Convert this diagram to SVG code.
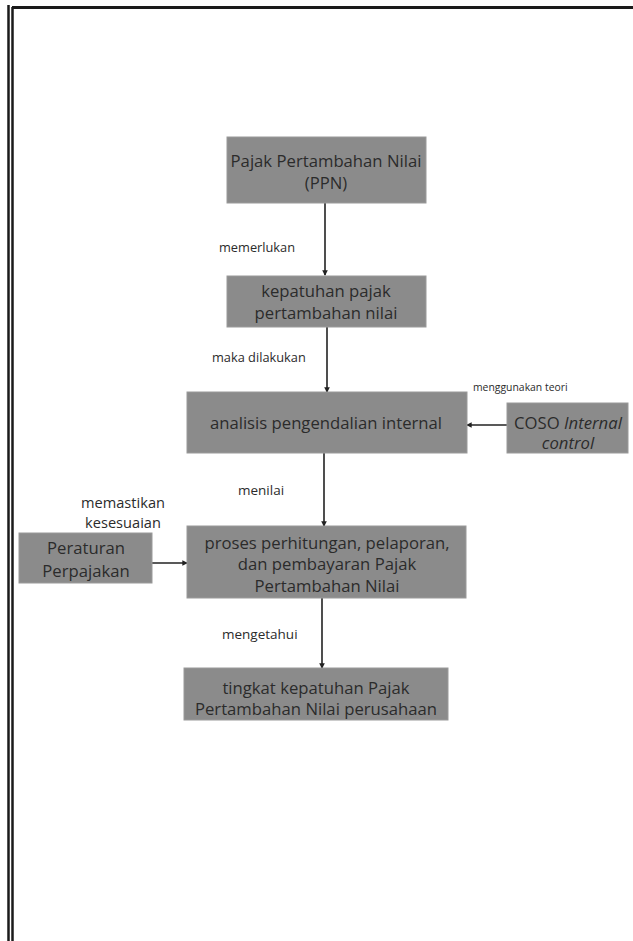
<svg xmlns="http://www.w3.org/2000/svg" width="633" height="941" viewBox="0 0 633 941">
<style>
.box{fill:#8b8b8b;stroke:#9a9a9a;stroke-width:1}
.t{font-family:"Open Sans","Noto Sans",sans-serif;font-size:16.7px;fill:#2b2b2b;text-anchor:middle}
.lbl{font-family:"Open Sans","Noto Sans",sans-serif;fill:#2b2b2b}
.con{stroke:#222;stroke-width:1.6;fill:none;marker-end:url(#ah)}
</style>
<defs>
<marker id="ah" viewBox="0 0 6 6" refX="5" refY="3" markerWidth="3.5" markerHeight="3.5" orient="auto">
<path d="M0,0 L6,3 L0,6 Z" fill="#222"/>
</marker>
</defs>
<rect width="633" height="941" fill="#fff"/>
<g id="frame">
<line x1="8.5" y1="5" x2="8.5" y2="941" stroke="#1a1a1a" stroke-width="2.5"/>
<line x1="12.5" y1="7" x2="12.5" y2="941" stroke="#1a1a1a" stroke-width="2.5"/>
<line x1="12" y1="7.5" x2="633" y2="7.5" stroke="#1a1a1a" stroke-width="3"/>
</g>
<g id="connectors">
<line class="con" x1="325" y1="203" x2="325" y2="275"/>
<line class="con" x1="327" y1="327" x2="327" y2="392"/>
<line class="con" x1="507" y1="425" x2="467" y2="425"/>
<line class="con" x1="324" y1="453" x2="324" y2="526"/>
<line class="con" x1="152" y1="563" x2="187" y2="563"/>
<line class="con" x1="322" y1="598" x2="322" y2="668"/>
</g>
<g id="labels">
<text class="lbl" x="219" y="252" style="font-size:12.8px">memerlukan</text>
<text class="lbl" x="212" y="362" style="font-size:12.8px">maka dilakukan</text>
<text class="lbl" x="473" y="391" style="font-size:10.4px">menggunakan teori</text>
<text class="lbl" x="238" y="495" style="font-size:13.5px">menilai</text>
<text class="lbl" x="123" y="508" text-anchor="middle" style="font-size:14.6px">memastikan</text>
<text class="lbl" x="123" y="528" text-anchor="middle" style="font-size:14.6px">kesesuaian</text>
<text class="lbl" x="222" y="639" style="font-size:13.5px">mengetahui</text>
</g>
<g id="ppn">
<rect class="box" x="227" y="137" width="199" height="66"/>
<text class="t" x="326" y="167">Pajak Pertambahan Nilai</text>
<text class="t" x="326" y="189">(PPN)</text>
</g>
<g id="kepatuhan">
<rect class="box" x="227" y="276" width="199" height="51"/>
<text class="t" x="326" y="297">kepatuhan pajak</text>
<text class="t" x="326" y="319">pertambahan nilai</text>
</g>
<g id="analisis">
<rect class="box" x="187" y="392" width="280" height="61"/>
<text class="t" x="326" y="429">analisis pengendalian internal</text>
</g>
<g id="coso">
<rect class="box" x="507" y="403" width="121" height="50"/>
<text class="t" x="568" y="429">COSO <tspan font-style="italic">Internal</tspan></text>
<text class="t" x="568" y="449" font-style="italic">control</text>
</g>
<g id="peraturan">
<rect class="box" x="19" y="533" width="133" height="50"/>
<text class="t" x="86" y="554">Peraturan</text>
<text class="t" x="86" y="577">Perpajakan</text>
</g>
<g id="proses">
<rect class="box" x="187" y="526" width="279" height="72"/>
<text class="t" x="327" y="549">proses perhitungan, pelaporan,</text>
<text class="t" x="327" y="570">dan pembayaran Pajak</text>
<text class="t" x="327" y="592">Pertambahan Nilai</text>
</g>
<g id="tingkat">
<rect class="box" x="184" y="668" width="264" height="52"/>
<text class="t" x="316" y="694">tingkat kepatuhan Pajak</text>
<text class="t" x="316" y="715">Pertambahan Nilai perusahaan</text>
</g>
</svg>
